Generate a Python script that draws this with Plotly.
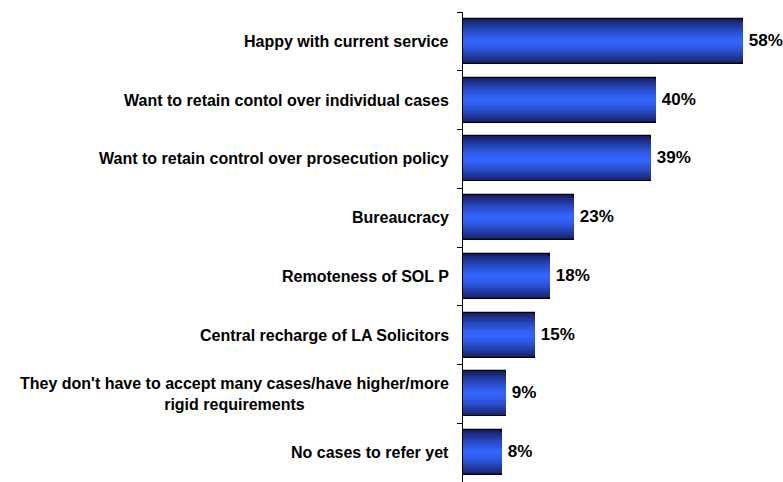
import plotly.graph_objects as go

# Reasons given, top to bottom, and share of respondents (%)
reasons = [
    "Happy with current service",
    "Want to retain contol over individual cases",
    "Want to retain control over prosecution policy",
    "Bureaucracy",
    "Remoteness of SOL P",
    "Central recharge of LA Solicitors",
    "They don't have to accept many cases/have higher/more<br>rigid requirements",
    "No cases to refer yet",
]
shares = [58, 40, 39, 23, 18, 15, 9, 8]

positions = list(range(len(reasons)))
boundaries = [p - 0.5 for p in positions] + [positions[-1] + 0.5]

EDGE = (22, 32, 104)    # dark navy at the bar edges
CORE = (51, 102, 255)   # bright blue along the middle
BAR_W = 0.765
LAYERS = 14
FONT = "Liberation Sans, Arial, sans-serif"


def mix(t):
    return "rgb({},{},{})".format(*[round(c + (e - c) * t) for c, e in zip(CORE, EDGE)])


fig = go.Figure()

# Stacked, progressively narrower bars of the same value give a tubular shading
for k in range(LAYERS):
    frac = 1 - k / LAYERS
    outer = k == 0
    fig.add_trace(go.Bar(
        x=shares,
        y=positions,
        orientation="h",
        width=BAR_W * frac,
        marker=dict(
            color=mix(frac ** 1.4),
            line=dict(color="black", width=1.2 if outer else 0),
        ),
        texttemplate="\u2009%{x}%" if outer else None,
        textposition="outside" if outer else "none",
        textfont=dict(family=FONT, size=17, color="black", weight="bold"),
        cliponaxis=False,
        hoverinfo="skip",
        showlegend=False,
    ))

# Category labels, right-aligned against the axis, multi-line text centred
for p, label in zip(positions, reasons):
    fig.add_annotation(
        x=0, xref="paper", xanchor="right", xshift=-12,
        y=p, yref="y", yanchor="middle",
        text=label, showarrow=False, align="center",
        font=dict(family=FONT, size=16, color="black", weight="bold"),
    )

fig.update_layout(
    width=783, height=482,
    margin=dict(l=463, r=0, t=12, b=0),
    paper_bgcolor="white", plot_bgcolor="white",
    barmode="overlay",
    bargap=0,
)
fig.update_xaxes(range=[0, 66.3], visible=False)
fig.update_yaxes(
    range=[7.5, -0.5],
    tickmode="array", tickvals=boundaries, ticktext=[""] * len(boundaries),
    ticks="outside", ticklen=5, tickcolor="black", tickwidth=1,
    showline=True, linecolor="black", linewidth=1,
    showgrid=False, zeroline=False,
)

fig.write_html("out.html")
